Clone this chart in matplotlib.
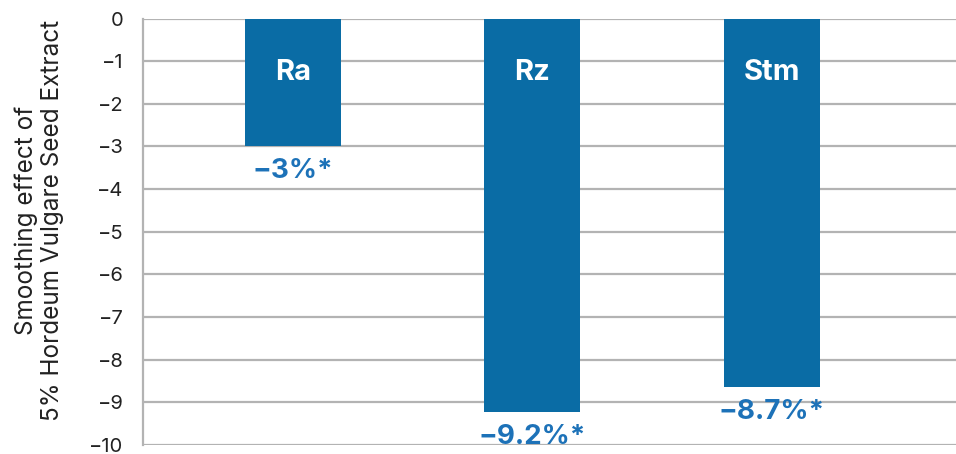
import numpy as np
import matplotlib.pyplot as plt

# Data
categories = ["Ra", "Rz", "Stm"]
values = [-3.0, -9.23, -8.63]
value_labels = ["\u22123%*", "\u22129.2%*", "\u22128.7%*"]
yticks = [0, -1, -2, -3, -4, -5, -6, -7, -8, -9, -10]

plt.rcParams['font.family'] = ['Inter', 'DejaVu Sans']

bar_color = "#0a6ca5"
label_color = "#1d72b8"
grid_color = "#b3b3b3"

fig = plt.figure(figsize=(9.56, 4.54), dpi=100)
ax = fig.add_axes([0.1496, 0.0198, 0.8504, 0.9394])

x = np.arange(len(categories))
ax.bar(x, values, width=0.40, color=bar_color, zorder=3)

# category names inside bars, value labels under bars
for xi, cat, v, lab in zip(x, categories, values, value_labels):
    ax.text(xi, -1.27, cat, ha="center", va="center", color="white",
            fontsize=21, fontweight="bold", zorder=4)
    ax.annotate(lab, (xi, v), xytext=(0, -18), textcoords="offset points",
                ha="center", va="center", color=label_color,
                fontsize=20, fontweight="bold", zorder=4)

ax.set_ylim(-10, 0)
ax.set_xlim(-0.626, 2.77)
ax.set_yticks(yticks)
ax.set_yticklabels([("\u2212" + str(-t)) if t < 0 else "0" for t in yticks])
ax.set_xticks([])
ax.tick_params(axis="y", length=0, pad=14, labelsize=14.5, labelcolor="#222222")
ax.yaxis.grid(True, color=grid_color, linewidth=1.6, zorder=0)
ax.set_axisbelow(True)

for s in ["top", "right", "bottom"]:
    ax.spines[s].set_visible(False)
ax.spines["left"].set_color(grid_color)
ax.spines["left"].set_linewidth(1.6)

ax.set_ylabel("Smoothing effect of\n5% Hordeum Vulgare Seed Extract",
              fontsize=17.5, color="#222222", linespacing=1.15, va="center")
ax.yaxis.set_label_coords(-0.128, 0.527)

fig.savefig("out.png", dpi=100)
